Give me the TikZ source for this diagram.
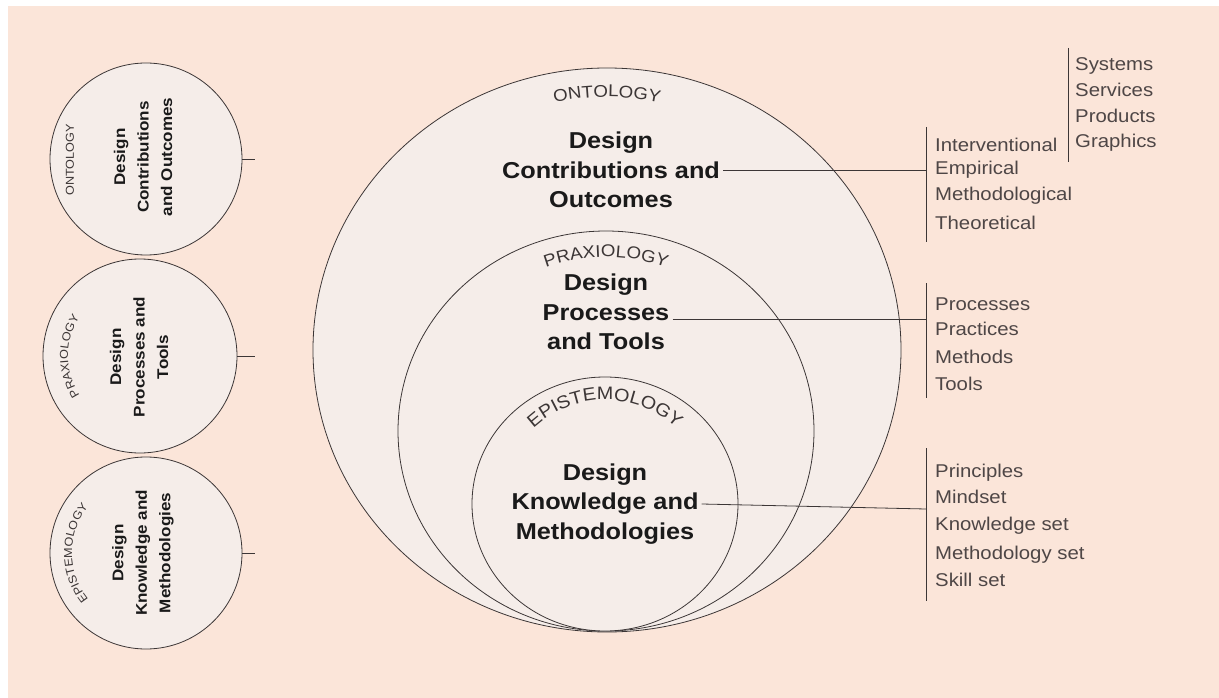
\documentclass[tikz,border=0pt]{standalone}
\usepackage{fontspec}
\setmainfont{Liberation Sans}[FakeStretch=1.1]
\usetikzlibrary{decorations.text}
\definecolor{bgpeach}{HTML}{FBE5D9}
\definecolor{cfill}{HTML}{F5EDE9}
\definecolor{lineclr}{HTML}{3C3636}
\definecolor{boldtxt}{HTML}{1A1A1A}
\definecolor{listtxt}{HTML}{4E4646}
\begin{document}
\begin{tikzpicture}[x=1pt,y=-1pt,
  ring/.style={draw=lineclr, line width=0.8pt, fill=cfill},
  bigtitle/.style={font=\fontsize{23}{29.5}\selectfont\bfseries, text=boldtxt, align=center, inner sep=3pt},
  smalltitle/.style={font=\fontsize{15.5}{23.5}\selectfont\bfseries, text=boldtxt, align=center, rotate=90, inner sep=0pt},
  smalllabel/.style={font=\fontsize{11.5}{12}\selectfont, text=lineclr, inner sep=0pt},
  item/.style={font=\fontsize{18.5}{20}\selectfont, text=listtxt, anchor=west, inner sep=0pt, text height=13.3pt, text depth=0pt},
  conn/.style={draw=lineclr, line width=0.8pt},
  arctext/.style={decorate, decoration={text along path, text align=center, text={#1}}}
]
\fill[white] (0,0) rectangle (1219,698);
\fill[bgpeach] (8,6) rectangle (1219,698);
\useasboundingbox (0,0) rectangle (1219,698);

% nested circles
\coordinate (cbig) at (607,350);
\coordinate (cmid) at (606,431);
\coordinate (cin) at (605,504);
\path[ring] (cbig) ellipse [x radius=294, y radius=282];
\path[ring] (cmid) ellipse [x radius=208, y radius=200];
\path[ring] (cin) ellipse [x radius=133, y radius=127];

% curved labels
\path[arctext={|\fontsize{17}{17}\selectfont\color{lineclr}|ONTOLOGY}]
  ([shift={(250:253)}]cbig) arc[start angle=250, end angle=290, radius=253];
\path[arctext={|\fontsize{17}{17}\selectfont\color{lineclr}|PRAXIOLOGY}]
  ([shift={(235:174)}]cmid) arc[start angle=235, end angle=305, radius=174];
\path[arctext={|\fontsize{18}{18}\selectfont\color{lineclr}|EPISTEMOLOGY}]
  ([shift={(210:104)}]cin) arc[start angle=210, end angle=330, radius=104];

% titles
\node[bigtitle] (dco) at (611,170) {Design\\Contributions and\\Outcomes};
\node[bigtitle] (dpt) at (606,312) {Design\\Processes\\and Tools};
\node[bigtitle] (dkm) at (605,504) {Design\\Knowledge and\\Methodologies};

% brackets
\coordinate (b1t) at (926,127); \coordinate (b1b) at (926,242);
\coordinate (b2t) at (1068,48); \coordinate (b2b) at (1068,162);
\coordinate (b3t) at (926,283); \coordinate (b3b) at (926,398);
\coordinate (b4t) at (926,448); \coordinate (b4b) at (926,601);
\coordinate (j1) at (926,170);
\coordinate (j3) at (926,319);
\coordinate (j4) at (926,509);
\draw[conn] (b1t) -- (b1b);
\draw[conn] (b2t) -- (b2b);
\draw[conn] (b3t) -- (b3b);
\draw[conn] (b4t) -- (b4b);
\draw[conn] (dco.east |- j1) -- (j1);
\draw[conn] (dpt.east |- j3) -- (j3);
\draw[conn] (dkm.east) -- (j4);

% lists
\node[item] (i11) at (935,145) {Interventional};
\node[item] (i12) at (935,168) {Empirical};
\node[item] (i13) at (935,194) {Methodological};
\node[item] (i14) at (935,223) {Theoretical};
\node[item] (i21) at (1075,64) {Systems};
\node[item] (i22) at (1075,90) {Services};
\node[item] (i23) at (1075,116) {Products};
\node[item] (i24) at (1075,141) {Graphics};
\node[item] (i31) at (935,304) {Processes};
\node[item] (i32) at (935,329) {Practices};
\node[item] (i33) at (935,357) {Methods};
\node[item] (i34) at (935,384) {Tools};
\node[item] (i41) at (935,471) {Principles};
\node[item] (i42) at (935,497) {Mindset};
\node[item] (i43) at (935,524) {Knowledge set};
\node[item] (i44) at (935,553) {Methodology set};
\node[item] (i45) at (935,580) {Skill set};

% left circles
\node[ring, circle, minimum size=192pt, inner sep=0pt] (L1) at (146,159) {};
\node[ring, circle, minimum size=194pt, inner sep=0pt] (L2) at (140,356) {};
\node[ring, circle, minimum size=192pt, inner sep=0pt] (L3) at (146,553) {};
\coordinate (t1) at (255,159);
\coordinate (t2) at (255,356);
\coordinate (t3) at (255,553);
\draw[conn] (L1.east) -- (t1);
\draw[conn] (L2.east) -- (t2);
\draw[conn] (L3.east) -- (t3);

\node[smalllabel, rotate=90] (s1) at (70,160) {ONTOLOGY};
\path[arctext={|\fontsize{11.5}{12}\selectfont\color{lineclr}|PRAXIOLOGY}]
  ([shift={(140:72)}]L2.center) arc[start angle=140, end angle=220, radius=72];
\path[arctext={|\fontsize{11.5}{12}\selectfont\color{lineclr}|EPISTEMOLOGY}]
  ([shift={(135:74)}]L3.center) arc[start angle=135, end angle=225, radius=74];

\node[smalltitle] (st1) at (143,157) {Design\\Contributions\\and Outcomes};
\node[smalltitle] (st2) at (139,357) {Design\\Processes and\\Tools};
\node[smalltitle] (st3) at (143,553) {Design\\Knowledge and\\Methodologies};
\end{tikzpicture}
\end{document}
